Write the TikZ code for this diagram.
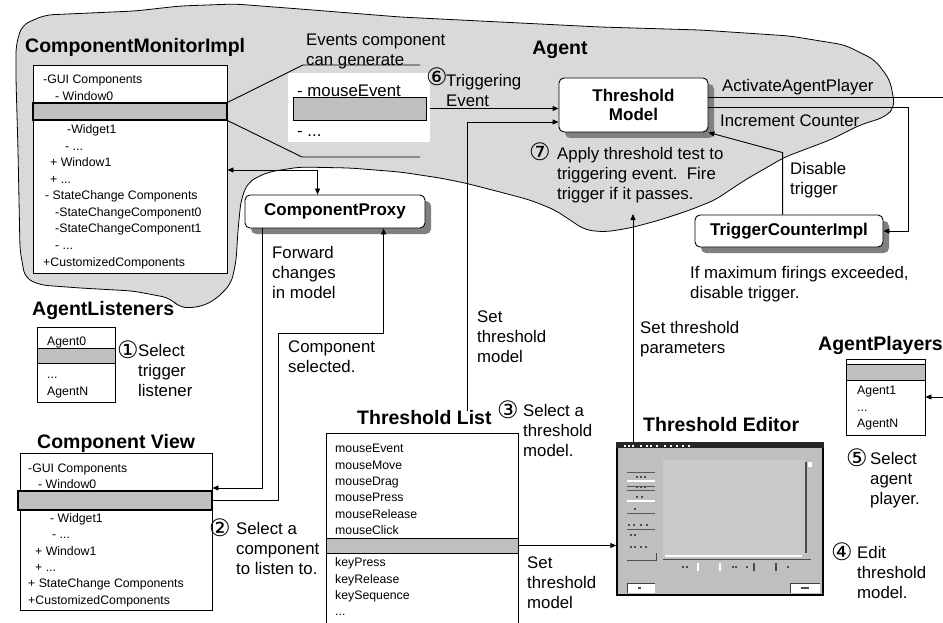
\documentclass[tikz,border=0pt]{standalone}
\usepackage{fontspec}
\setmainfont{Liberation Sans}
\newfontfamily\dejavu{DejaVu Sans}
\usetikzlibrary{arrows.meta,shadows,calc}
\begin{document}
\begin{tikzpicture}[x=1pt,y=-1pt,
  tip/.style={-{Triangle[length=6pt,width=5pt]}},
  tipboth/.style={{Triangle[length=6pt,width=5pt]}-{Triangle[length=6pt,width=5pt]}},
  conn/.style={line width=0.9pt},
  title/.style={font=\fontsize{19.5}{22}\selectfont\bfseries, inner sep=0, anchor=west},
  lbl/.style={font=\fontsize{16.8}{20}\selectfont, inner sep=0, anchor=north west, align=left},
  small/.style={font=\fontsize{12.3}{14}\selectfont, inner sep=0, anchor=base west},
  circ/.style={font=\fontsize{24}{26}\selectfont\dejavu, inner sep=0},
  listbox/.style={draw, fill=white, line width=0.9pt, inner sep=0},
  band/.style={draw, fill=gray!50, line width=1.2pt, inner sep=0},
  rbox/.style={draw, fill=white, rounded corners=5pt, line width=0.9pt,
    font=\fontsize{17}{19}\selectfont\bfseries, align=center,
    drop shadow={shadow xshift=6pt, shadow yshift=-6pt, fill=gray, opacity=1}},
]
\useasboundingbox (0,0) rectangle (943,623);
\fill[white] (0,0) rectangle (943,623);

% Agent region
\draw[fill=gray!30, line width=0.8pt, rounded corners=8pt]
 (16,45) -- (22,25) -- (45,15) -- (90,13) -- (135,11) -- (180,6) -- (235,4) -- (300,9)
 -- (400,17) -- (500,22) -- (600,27) -- (700,30) -- (790,36) -- (845,45) -- (875,60)
 -- (890,80) -- (895,107) -- (885,117) -- (860,125) -- (830,140) -- (785,157) -- (745,180)
 -- (715,200) -- (690,210) -- (660,220) -- (630,228) -- (605,232) -- (585,230) -- (570,220)
 -- (555,210) -- (530,200) -- (500,192) -- (465,183) -- (440,178) -- (400,172) -- (350,168)
 -- (300,167) -- (268,172) -- (248,182) -- (241,200) -- (238,230) -- (236,262) -- (231,284)
 -- (215,300) -- (200,307) -- (180,308) -- (170,298) -- (133,291) -- (80,288) -- (40,285)
 -- (25,278) -- (20,250) -- (18,150) -- (16,80) -- cycle;

% ComponentMonitorImpl
\node[title] (cmititle) at (25,47) {ComponentMonitorImpl};
\node[listbox, minimum width=194pt, minimum height=208pt] (cmi) at (130,169) {};
\node[band, minimum width=194pt, minimum height=17pt] (cmiband) at (130,111.5) {};
\foreach \x/\y/\t [count=\i] in {43/84/{-GUI Components}, 55/101/{- Window0}, 67/134/{-Widget1},
  65/151/{- ...}, 50/167/{+ Window1}, 50/184/{+ ...}, 45/200/{- StateChange Components},
  55/216/{-StateChangeComponent0}, 55/232/{-StateChangeComponent1}, 55/249/{- ...},
  43/266/{+CustomizedComponents}}
  \node[small] (cmit\i) at (\x,\y) {\t};

% Events component callout
\node[lbl] (evtxt) at (306,34) {Events component\\can generate};
\node[fill=white, inner sep=0, minimum width=142pt, minimum height=69pt] (evbox) at (359,107.5) {};
\node[lbl, anchor=base west] (evt1) at (297,97) {- mouseEvent};
\node[band, line width=0.9pt, minimum width=133pt, minimum height=23pt] (evband) at (359.5,108.5) {};
\node[lbl, anchor=base west] (evt2) at (297,137) {- ...};
\coordinate (calT) at (303,65);
\coordinate (calTe) at (420,65);
\coordinate (calB) at (302,157);
\coordinate (calBe) at (420,157);
\draw[conn] (cmiband.north east) -- (calT) -- (calTe);
\draw[conn] (cmiband.south east) -- (calB) -- (calBe);

% Agent
\node[font=\fontsize{19.5}{22}\selectfont\bfseries, inner sep=0] (agent) at (560,50) {Agent};
\node[circ] (c6) at (437,77) {⑥};
\node[lbl] (trig) at (446,74) {Triggering\\Event};

\node[rbox, minimum width=149pt, minimum height=54pt] (tm) at (633.5,105) {Threshold\\Model};
\node[lbl] (aap) at (722,79) {ActivateAgentPlayer};
\node[lbl] (inc) at (720,115) {Increment Counter};
\node[lbl] (dis) at (790,162) {Disable\\trigger};
\node[circ] (c7) at (540,152) {⑦};
\node[lbl] (apply) at (557,147) {Apply threshold test to\\triggering event.\ \ Fire\\trigger if it passes.};

\node[rbox, minimum width=188pt, minimum height=32pt] (tci) at (789,231) {TriggerCounterImpl};
\node[lbl] (maxf) at (690,266) {If maximum firings exceeded,\\disable trigger.};

\node[rbox, minimum width=180pt, minimum height=33pt] (cp) at (335,211.5) {ComponentProxy};
\node[lbl] (fwd) at (272,246) {Forward\\changes\\in model};
\node[lbl] (csel) at (288,341) {Component\\selected.};

% AgentListeners
\node[title] (altitle) at (32,311) {AgentListeners};
\node[listbox, minimum width=78pt, minimum height=75pt] (al) at (76,364.5) {};
\node[band, line width=0.9pt, minimum width=78pt, minimum height=15pt] (alband) at (76,355.5) {};
\node[small] (alt1) at (47,345) {Agent0};
\node[small] (alt2) at (47,378) {...};
\node[small] (alt3) at (47,395) {AgentN};
\node[circ] (c1) at (128,350) {①};
\node[lbl] (s1) at (138,344) {Select\\trigger\\listener};

% Component View
\node[title] (cvtitle) at (37,443) {Component View};
\node[listbox, minimum width=192pt, minimum height=157pt] (cv) at (116,531.5) {};
\node[band, minimum width=194pt, minimum height=19pt] (cvband) at (115,500.5) {};
\foreach \x/\y/\t [count=\i] in {28/472/{-GUI Components}, 38/488/{- Window0}, 50/522/{- Widget1},
  52/538/{- ...}, 35/555/{+ Window1}, 35/571/{+ ...}, 28/587/{+ StateChange Components},
  28/604/{+CustomizedComponents}}
  \node[small] (cvt\i) at (\x,\y) {\t};
\node[circ] (c2) at (220,528) {②};
\node[lbl] (s2) at (236,522) {Select a\\component\\to listen to.};

% Threshold List
\node[title] (tltitle) at (357,418) {Threshold List};
\node[listbox, minimum width=192pt, minimum height=192pt] (tl) at (422,529) {};
\node[band, line width=0.9pt, minimum width=192pt, minimum height=15pt] (tlband) at (422,545.5) {};
\foreach \y/\t [count=\i] in {452/{mouseEvent}, 469/{mouseMove}, 485/{mouseDrag}, 501/{mousePress},
  518/{mouseRelease}, 534/{mouseClick}, 566/{keyPress}, 583/{keyRelease}, 599/{keySequence}}
  \node[small] (tlt\i) at (335,\y) {\t};
\node[small] (tltdots) at (335,615) {...};
\node[circ] (c3) at (508,410) {③};
\node[lbl] (s3) at (523,404) {Select a\\threshold\\model.};
\node[lbl] (stm1) at (477,311) {Set\\threshold\\model};
\node[lbl] (stm2) at (527,557) {Set\\threshold\\model};

% Threshold Editor
\node[title] (tetitle) at (643,425) {Threshold Editor};
\node[draw, fill=gray!50, line width=1.5pt, minimum width=206pt, minimum height=152pt, inner sep=0] (te) at (720,519) {};
\fill[black!85] (te.north west) rectangle ($(te.north east)+(0,6)$);
\foreach \x in {624,628,632,640,646,650,656,664,670,676,682,688}
  \fill[white] (\x,445) rectangle ++(2,2);
\fill[gray!42] (663,460) rectangle (805,555);
\draw[black!70, line width=1.5pt] (806,462) -- (806,553);
\fill[white] (808,462) rectangle (812,467);
\draw[white, line width=2pt] (665,556) -- (802,556);
\draw[black!70, line width=1.2pt] (663,559.5) -- (811,559.5);
\foreach \x in {698,720} \draw[white, line width=1.2pt] (\x,563) -- (\x,571);
\foreach \x in {754,776} \draw[black!70, line width=1.2pt] (\x,563) -- (\x,571);
\foreach \x in {682,686,732,735,746,787} \fill[black!70] (\x,566) rectangle ++(2,2);
\foreach \y in {472,486,490,513,529} \draw[black!65, line width=1pt] (627,\y) -- (655,\y);
\foreach \y in {481,501} \draw[white, line width=1.5pt] (627,\y) -- (655,\y);
\foreach \x/\y in {636/476,640/476,644/476,636/486,640/486,644/486,636/496,641/496,634/508,
  628/524,633/524,640/524,646/524,630/534,634/534,630/546,634/546,640/546,645/546}
  \fill[black!70] (\x,\y) rectangle ++(2,2);
\draw[black!70, line width=1pt] (627,560) -- (656,560) -- (656,553);
\fill[white] (627,583) rectangle (655,593);
\draw[black!75, line width=1pt] (627,593) -- (627,583) -- (655,583);
\fill[white] (790,583) rectangle (820,593);
\draw[black!75, line width=1pt] (790,593) -- (790,583) -- (820,583);
\fill[black!70] (638,587) rectangle ++(3,2);
\fill[black!70] (801,587) rectangle ++(8,2);
\node[circ] (c4) at (842,552) {④};
\node[lbl] (s4) at (857,546) {Edit\\threshold\\model.};

% AgentPlayers
\node[title] (aptitle) at (818,345) {AgentPlayers};
\node[listbox, minimum width=79pt, minimum height=76pt] (ap) at (885.5,397) {};
\node[band, line width=0.9pt, minimum width=79pt, minimum height=16pt] (apband) at (885.5,372) {};
\node[small] (apt1) at (857,394) {Agent1};
\node[small] (apt2) at (857,411) {...};
\node[small] (apt3) at (857,427) {AgentN};
\node[circ] (c5) at (857,458) {⑤};
\node[lbl] (s5) at (870,452) {Select\\agent\\player.};
\node[lbl] (stp) at (640,321) {Set threshold\\parameters};

% connectors
\coordinate (cpIn) at ($(cp.north west)+(73,0)$);
\coordinate (selA) at (278,333);
\coordinate (applyTip) at (633,214);
\coordinate (apOut) at (950,97);
\coordinate (apIn) at (950,397);
\draw[conn, tipboth] (cmi.east |- 0,170) -| (cpIn);
\draw[conn, tip] ($(cp.south west)+(18,0)$) |- (cv.east |- 0,488);
\draw[conn, tip] (cvband.east) -| (selA) -| ($(cp.south west)+(139,0)$);
\draw[conn, tip] (tltitle.north -| 467,0) |- ($(tm.west)+(0,17)$);
\draw[conn, tip] (evbox.east |- evband.east) -- (tm.west |- evband.east);
\draw[conn, tip] (te.north -| 633,0) -- (applyTip);
\draw[conn] (tm.east |- 0,97) -- (apOut);
\draw[conn, tip] (tm.east |- 0,107) -| ($(tci.east)+(25,0)$) -- (tci.east);
\draw[conn, tip] ($(tci.north west)+(88,0)$) -- ++(0,-62) -- (tm.south east);
\draw[conn, tip] (tlband.east) -- (te.west |- tlband.east);
\draw[conn, tip] (apIn) -- (ap.east |- apIn);
\end{tikzpicture}
\end{document}
